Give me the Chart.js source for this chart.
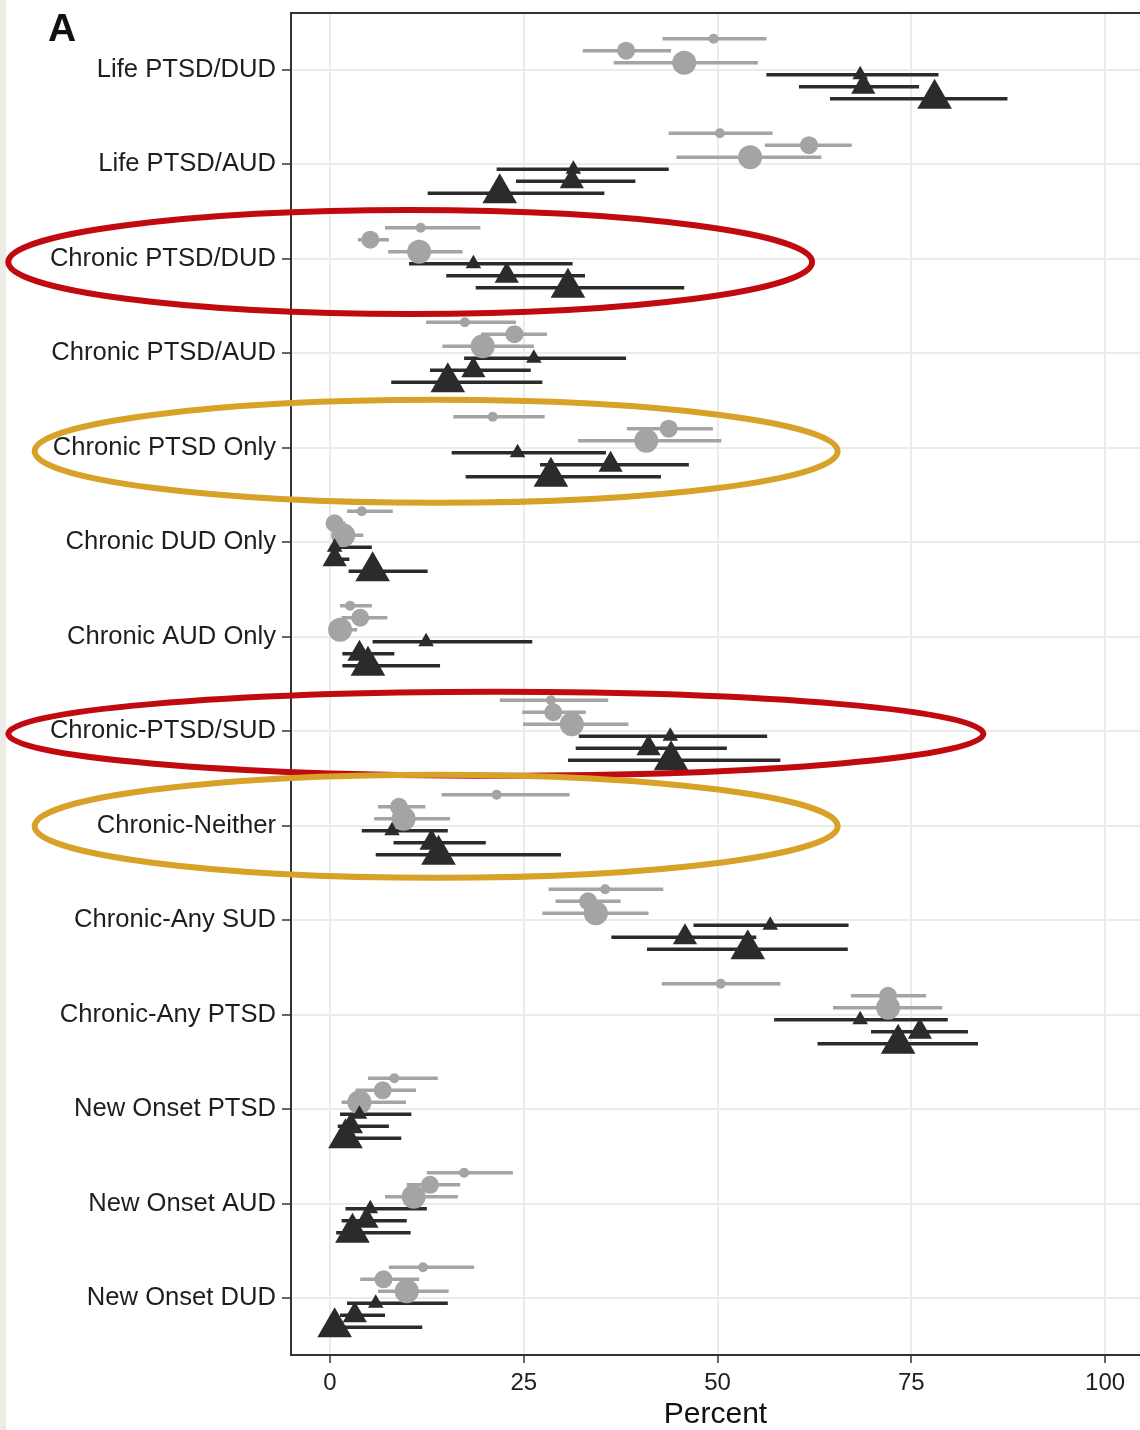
<!DOCTYPE html>
<html>
<head>
<meta charset="utf-8">
<script src="https://cdn.jsdelivr.net/npm/chart.js@4"></script>
<style>
  html, body { margin: 0; padding: 0; background: #fff; }
  #wrap { position: relative; width: 1140px; height: 1430px; }
  #strip { position: absolute; left: 0; top: 0; width: 6px; height: 1430px; background: #ecebe5; }
  #chart { position: absolute; left: 0; top: 0; }
  #panel { position: absolute; left: 48px; top: 8px; font: bold 39px 'Liberation Sans', Arial, sans-serif; line-height: 1; color: #111; }
</style>
</head>
<body>
<div id="wrap">
  <div id="strip"></div>
  <canvas id="chart" width="1140" height="1430"></canvas>
  <div id="panel">A</div>
</div>
<script>
const categories = [
  'Life PTSD/DUD', 'Life PTSD/AUD', 'Chronic PTSD/DUD', 'Chronic PTSD/AUD',
  'Chronic PTSD Only', 'Chronic DUD Only', 'Chronic AUD Only', 'Chronic-PTSD/SUD',
  'Chronic-Neither', 'Chronic-Any SUD', 'Chronic-Any PTSD',
  'New Onset PTSD', 'New Onset AUD', 'New Onset DUD',
];
const xTicks = [0, 25, 50, 75, 100];

// grey circles, three sizes
const greySmall   = [49.5, 50.3, 11.7, 17.4, 21.0, 4.1, 2.6, 28.5, 21.5, 35.5, 50.4, 8.3, 17.3, 12.0];
const greySmallLo = [42.9, 43.7, 7.1, 12.4, 15.9, 2.2, 1.3, 21.9, 14.4, 28.2, 42.8, 4.9, 12.5, 7.6];
const greySmallHi = [56.3, 57.1, 19.4, 24.0, 27.7, 8.1, 5.4, 35.9, 30.9, 43.0, 58.1, 13.9, 23.6, 18.6];

const greyMed   = [38.2, 61.8, 5.2, 23.8, 43.7, 0.6, 3.9, 28.8, 8.9, 33.3, 72.0, 6.8, 12.9, 6.9];
const greyMedLo = [32.6, 56.1, 3.6, 19.5, 38.3, 0.0, 1.5, 24.8, 6.2, 29.1, 67.2, 3.3, 9.9, 3.9];
const greyMedHi = [44.0, 67.3, 7.6, 28.0, 49.4, 2.0, 7.4, 33.0, 12.3, 37.5, 76.9, 11.1, 16.8, 11.5];

const greyLarge   = [45.7, 54.2, 11.5, 19.7, 40.8, 1.7, 1.3, 31.2, 9.5, 34.3, 72.0, 3.8, 10.8, 9.9];
const greyLargeLo = [36.6, 44.7, 7.5, 14.5, 32.0, 0.3, 0.2, 24.9, 5.7, 27.4, 64.9, 1.5, 7.1, 6.2];
const greyLargeHi = [55.2, 63.4, 17.1, 26.3, 50.5, 4.3, 3.5, 38.5, 15.5, 41.1, 79.0, 9.8, 16.5, 15.3];

// dark triangles, three sizes
const darkSmall   = [68.4, 31.4, 18.5, 26.3, 24.2, 0.6, 12.4, 43.9, 8.0, 56.8, 68.4, 3.8, 5.2, 5.9];
const darkSmallLo = [56.3, 21.5, 10.2, 17.3, 15.7, 0.4, 5.5, 32.1, 4.1, 46.9, 57.3, 1.3, 2.0, 2.2];
const darkSmallHi = [78.5, 43.7, 31.3, 38.2, 35.6, 5.4, 26.1, 56.4, 15.2, 66.9, 79.7, 10.5, 12.5, 15.2];

const darkMed   = [68.8, 31.2, 22.8, 18.5, 36.2, 0.6, 3.8, 41.1, 13.1, 45.8, 76.1, 2.7, 4.7, 3.2];
const darkMedLo = [60.5, 24.0, 15.0, 12.9, 27.1, 0.0, 1.6, 31.7, 8.2, 36.3, 69.8, 1.0, 1.5, 1.3];
const darkMedHi = [76.0, 39.4, 32.9, 25.9, 46.3, 2.5, 8.3, 51.2, 20.1, 55.0, 82.3, 7.6, 9.9, 7.1];

const darkLarge   = [78.0, 21.9, 30.7, 15.2, 28.5, 5.5, 4.9, 44.0, 14.0, 53.9, 73.3, 2.0, 2.9, 0.6];
const darkLargeLo = [64.5, 12.6, 18.8, 7.9, 17.5, 2.4, 1.6, 30.7, 5.9, 40.9, 62.9, 0.8, 0.8, 0.0];
const darkLargeHi = [87.4, 35.4, 45.7, 27.4, 42.7, 12.6, 14.2, 58.1, 29.8, 66.8, 83.6, 9.2, 10.4, 11.9];

const GREY = '#a4a4a4';
const DARK = '#2b2b2b';
const RED = '#c10a0f';
const GOLD = '#d8a127';

const series = [
  { mid: greySmall, lo: greySmallLo, hi: greySmallHi, color: GREY, style: 'circle', radius: 5, shift: -0.328 },
  { mid: greyMed, lo: greyMedLo, hi: greyMedHi, color: GREY, style: 'circle', radius: 9, shift: -0.201 },
  { mid: greyLarge, lo: greyLargeLo, hi: greyLargeHi, color: GREY, style: 'circle', radius: 12, shift: -0.074 },
  { mid: darkSmall, lo: darkSmallLo, hi: darkSmallHi, color: DARK, style: 'triangle', radius: 9, shift: 0.053 },
  { mid: darkMed, lo: darkMedLo, hi: darkMedHi, color: DARK, style: 'triangle', radius: 14, shift: 0.180 },
  { mid: darkLarge, lo: darkLargeLo, hi: darkLargeHi, color: DARK, style: 'triangle', radius: 20, shift: 0.307 },
];

// highlight rings, in axis units
const rings = [
  { at: 3.034, from: -41.5, to: 62.2, half: 0.55, color: RED },
  { at: 5.038, from: -38.1, to: 65.5, half: 0.545, color: GOLD },
  { at: 8.027, from: -41.5, to: 84.3, half: 0.444, color: RED },
  { at: 9.005, from: -38.1, to: 65.5, half: 0.545, color: GOLD },
];

function barData(s) {
  const pts = [];
  categories.forEach((c, i) => {
    const y = i + 1 + s.shift;
    pts.push({ x: s.lo[i], y: y }, { x: s.hi[i], y: y }, { x: s.hi[i], y: null });
  });
  return pts;
}

function pointData(s) {
  return categories.map((c, i) => ({ x: s.mid[i], y: i + 1 + s.shift }));
}

const datasets = [];
series.forEach((s) => {
  datasets.push({
    type: 'line',
    data: barData(s),
    borderColor: s.color,
    borderWidth: 3.5,
    borderCapStyle: 'butt',
    pointRadius: 0,
    spanGaps: false,
    tension: 0,
    order: 20,
  });
});
series.forEach((s, k) => {
  datasets.push({
    type: 'scatter',
    data: pointData(s),
    pointStyle: s.style,
    pointRadius: s.radius,
    backgroundColor: s.color,
    borderColor: s.color,
    borderWidth: 0,
    order: 10 - k,
  });
});

const frame = {
  id: 'frame',
  beforeDatasetsDraw(chart) {
    const { ctx, chartArea: a } = chart;
    ctx.save();
    ctx.strokeStyle = '#333';
    ctx.lineWidth = 2;
    ctx.beginPath();
    ctx.moveTo(a.left, a.top);
    ctx.lineTo(a.right, a.top);
    ctx.stroke();
    ctx.restore();
  },
  afterDraw(chart) {
    const { ctx } = chart;
    const x = chart.scales.x;
    const y = chart.scales.y;
    ctx.save();
    rings.forEach((r) => {
      const x0 = x.getPixelForValue(r.from);
      const x1 = x.getPixelForValue(r.to);
      const cy = y.getPixelForValue(r.at);
      const ry = Math.abs(y.getPixelForValue(r.at + r.half) - cy);
      ctx.strokeStyle = r.color;
      ctx.lineWidth = 6;
      ctx.beginPath();
      ctx.ellipse((x0 + x1) / 2, cy, (x1 - x0) / 2, ry, 0, 0, Math.PI * 2);
      ctx.stroke();
    });
    ctx.restore();
  },
};

Chart.defaults.font.family = "'Liberation Sans', Arial, sans-serif";

new Chart(document.getElementById('chart'), {
  type: 'scatter',
  data: { datasets: datasets },
  options: {
    responsive: false,
    animation: false,
    events: [],
    layout: { autoPadding: false, padding: { top: 13, right: 0, left: 0, bottom: 0 } },
    plugins: { legend: { display: false }, tooltip: { enabled: false } },
    scales: {
      x: {
        type: 'linear',
        min: -5.03,
        max: 104.5,
        afterBuildTicks: (s) => { s.ticks = xTicks.map((v) => ({ value: v })); },
        afterFit: (s) => {
          s.height = 75;
          s.paddingLeft = 0;
          s.paddingRight = 0;
        },
        ticks: { font: { size: 24 }, color: '#1e1e1e', padding: 6, autoSkip: false, maxRotation: 0 },
        grid: { color: '#ebebeb', lineWidth: 2, tickColor: '#333', tickLength: 8, tickWidth: 1.5 },
        border: { color: '#333', width: 2 },
        title: { display: true, text: 'Percent', font: { size: 30 }, color: '#111', padding: { top: 0, bottom: -3 } },
      },
      y: {
        type: 'linear',
        reverse: true,
        min: 0.4,
        max: 14.6,
        afterBuildTicks: (s) => { s.ticks = categories.map((c, i) => ({ value: i + 1 })); },
        afterFit: (s) => {
          s.width = 291;
          s.paddingTop = 0;
          s.paddingBottom = 0;
        },
        ticks: {
          callback: (v) => categories[Math.round(v) - 1],
          font: { size: 25.6 },
          color: '#1e1e1e',
          padding: 6,
          autoSkip: false,
        },
        grid: { color: '#ebebeb', lineWidth: 2, tickColor: '#333', tickLength: 9, tickWidth: 1.5 },
        border: { color: '#333', width: 2 },
      },
    },
  },
  plugins: [frame],
});
</script>
</body>
</html>
